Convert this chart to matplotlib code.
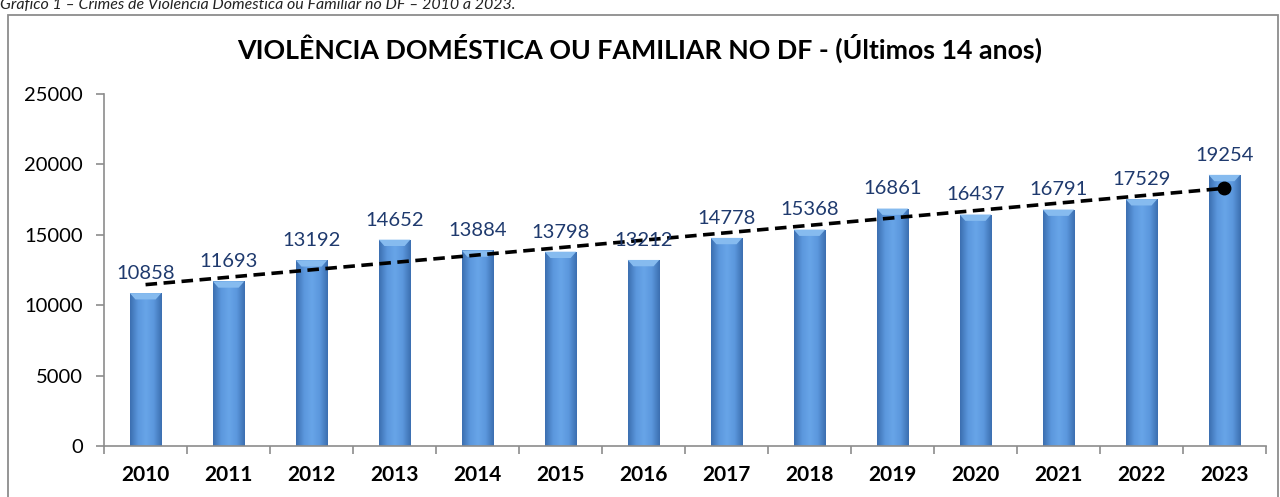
import numpy as np
import matplotlib.pyplot as plt
from matplotlib.patches import Rectangle, Polygon
from matplotlib.colors import LinearSegmentedColormap

# ------------------------------
# Data
# ------------------------------
anos = ['2010', '2011', '2012', '2013', '2014', '2015', '2016',
        '2017', '2018', '2019', '2020', '2021', '2022', '2023']
casos = [10858, 11693, 13192, 14652, 13884, 13798, 13212,
         14778, 15368, 16861, 16437, 16791, 17529, 19254]

plt.rcParams['font.family'] = ['Lato', 'DejaVu Sans']

fig = plt.figure(figsize=(12.8, 4.97), dpi=100)
ax = fig.add_axes([0.0813, 0.1026, 0.9077, 0.7084])

x = np.arange(len(anos))
bars = ax.bar(x, casos, width=0.38, color='#5A95DA', edgecolor='none', zorder=2)

# cylinder-ish horizontal gradient on every bar
cmap = LinearSegmentedColormap.from_list(
    'cil', ['#3C6FB0', '#5B97DD', '#68A5E8', '#5B97DD', '#3C6FB0'])
grad = np.linspace(0, 1, 64).reshape(1, -1)
for b in bars:
    x0, y0 = b.get_x(), b.get_y()
    w, h = b.get_width(), b.get_height()
    im = ax.imshow(grad, cmap=cmap, aspect='auto', zorder=2,
                   extent=(x0, x0 + w, y0, y0 + h), interpolation='bicubic')
    im.set_clip_path(b)
    # light bevel at the top
    bev = 450
    ax.add_patch(Polygon([(x0, y0 + h), (x0 + w, y0 + h),
                          (x0 + w * 0.82, y0 + h - bev), (x0 + w * 0.18, y0 + h - bev)],
                         closed=True, facecolor='#86BBEF', edgecolor='none', zorder=3))

ax.set_xlim(-0.5, len(anos) - 0.5)
ax.set_ylim(0, 25000)

# data labels
for xi, v in zip(x, casos):
    ax.annotate(str(v), (xi, v), xytext=(0, 8), textcoords='offset points',
                ha='center', va='bottom', fontsize=14.5, color='#1F3A6E', zorder=5)

# linear trend line
coef = np.polyfit(x, casos, 1)
trend = np.polyval(coef, x)
ax.plot(x, trend, color='black', lw=2.6, ls=(0, (3.2, 1.8)), zorder=4)
ax.plot(x[-1], trend[-1], 'o', color='black', markersize=9, zorder=4)

# axes styling
for s in ['top', 'right']:
    ax.spines[s].set_visible(False)
for s in ['left', 'bottom']:
    ax.spines[s].set_color('#8C8C8C')
    ax.spines[s].set_linewidth(1.2)

ax.set_yticks(range(0, 25001, 5000))
ax.set_yticklabels([str(v) for v in range(0, 25001, 5000)], fontsize=14.5)
ax.tick_params(axis='y', length=6, width=1.2, color='#8C8C8C', pad=9)

ax.set_xticks(x)
ax.set_xticklabels(anos, fontsize=15, fontweight='bold')
ax.set_xticks(np.arange(-0.5, len(anos)), minor=True)
ax.tick_params(axis='x', which='major', length=0, pad=14)
ax.tick_params(axis='x', which='minor', length=6, width=1.2, color='#8C8C8C')

# title and caption
fig.text(0.5, 0.903, 'VIOLÊNCIA DOMÉSTICA OU FAMILIAR NO DF - (Últimos 14 anos)',
         ha='center', va='center', fontsize=19.3, fontweight='bold')
fig.text(0.0, 0.99, 'Gráfico 1 – Crimes de Violência Doméstica ou Familiar no DF – 2010 a 2023.',
         ha='left', va='center', fontsize=11.5, style='italic', color='#222222')

# chart border
fig.patches.append(Rectangle((0.0066, -0.05), 0.992, 1.02, transform=fig.transFigure,
                             fill=False, edgecolor='#8C8C8C', linewidth=1.3))

plt.savefig('out.png', dpi=100)
